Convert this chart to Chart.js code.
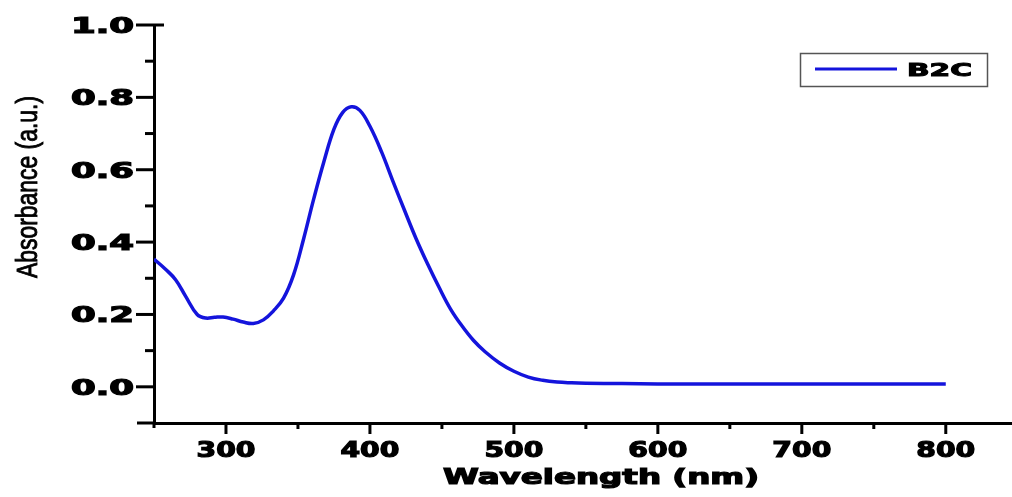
<!DOCTYPE html>
<html>
<head>
<meta charset="utf-8">
<script src="https://cdn.jsdelivr.net/npm/chart.js@4.4.1/dist/chart.umd.min.js"></script>
<style>
  html, body { margin: 0; padding: 0; background: #fff; }
  #wrap { width: 1012px; height: 497px; }
</style>
</head>
<body>
<div id="wrap"><canvas id="myChart" width="1012" height="497"></canvas></div>
<script>
// spectrum (nm, a.u.)
const wavelengths = [250, 258, 265, 272, 280, 286, 292, 298, 305, 312, 319, 326, 333, 340, 347, 354,
  361, 368, 375, 381, 387, 393, 400, 408, 416, 424, 432, 440, 448, 456, 464, 472, 480, 490, 500,
  510, 520, 530, 540, 550, 575, 600, 650, 700, 750, 800];
const absorbance = [0.353, 0.325, 0.296, 0.25, 0.20, 0.19, 0.192, 0.193, 0.187, 0.179, 0.175, 0.185,
  0.21, 0.245, 0.31, 0.41, 0.52, 0.622, 0.712, 0.758, 0.774, 0.764, 0.72, 0.65, 0.568, 0.488, 0.41,
  0.34, 0.275, 0.215, 0.168, 0.128, 0.097, 0.066, 0.043, 0.027, 0.018, 0.013, 0.011, 0.010, 0.009,
  0.008, 0.008, 0.008, 0.008, 0.008];
const seriesLabel = 'B2C';

const xMajorTicks = [300, 400, 500, 600, 700, 800];
const xTickLabels = ['300', '400', '500', '600', '700', '800'];
const xMinorTicks = [350, 450, 550, 650, 750];
const yMajorTicks = [0, 0.2, 0.4, 0.6, 0.8, 1.0];
const yTickLabels = ['0.0', '0.2', '0.4', '0.6', '0.8', '1.0'];
const yMinorTicks = [0.1, 0.3, 0.5, 0.7, 0.9];

const xTitle = 'Wavelength (nm)';
const yTitle = 'Absorbance (a.u.)';

const boldFont = 'bold 21px "DejaVu Sans"';

// wide, heavy text like the original export
function wideText(ctx, text, x, y, align, sx, heavy) {
    ctx.save();
    ctx.translate(x, y);
    ctx.scale(sx, 1);
    ctx.textAlign = align;
    ctx.textBaseline = 'alphabetic';
    ctx.fillText(text, 0, 0);
    if (heavy) {
        ctx.lineWidth = heavy;
        ctx.strokeStyle = ctx.fillStyle;
        ctx.strokeText(text, 0, 0);
    }
    ctx.restore();
}

function seg(ctx, x1, y1, x2, y2) {
    ctx.beginPath();
    ctx.moveTo(x1, y1);
    ctx.lineTo(x2, y2);
    ctx.stroke();
}

const axisDecor = {
    id: 'axisDecor',
    afterDraw(chart) {
        const ctx = chart.ctx;
        const xs = chart.scales.x;
        const ys = chart.scales.y;
        const area = chart.chartArea;
        ctx.save();
        ctx.strokeStyle = '#000';
        ctx.lineWidth = 3;

        // axis stubs past the corner
        seg(ctx, 137, area.bottom, area.left, area.bottom);
        seg(ctx, area.left, area.bottom, area.left, area.bottom + 5);
        seg(ctx, area.left, area.top, 164, area.top);

        xMajorTicks.forEach(v => {
            const px = xs.getPixelForValue(v);
            seg(ctx, px, area.bottom, px, area.bottom + 11);
        });
        xMinorTicks.forEach(v => {
            const px = xs.getPixelForValue(v);
            seg(ctx, px, area.bottom, px, area.bottom + 6);
        });
        yMajorTicks.forEach(v => {
            const py = ys.getPixelForValue(v);
            seg(ctx, area.left - 18, py, area.left, py);
        });
        yMinorTicks.forEach(v => {
            const py = ys.getPixelForValue(v);
            seg(ctx, area.left - 9, py, area.left, py);
        });

        // tick labels
        ctx.fillStyle = '#000';
        ctx.font = boldFont;
        const sxX = 59 / ctx.measureText('600').width;
        xTickLabels.forEach((t, i) => {
            wideText(ctx, t, xs.getPixelForValue(xMajorTicks[i]), 457, 'center', sxX, 1.2);
        });
        const sxY = 63 / ctx.measureText('0.8').width;
        yTickLabels.forEach((t, i) => {
            wideText(ctx, t, 134, ys.getPixelForValue(yMajorTicks[i]) + 8, 'right', sxY, 1.2);
        });

        // x title
        const sxT = 316 / ctx.measureText(xTitle).width;
        wideText(ctx, xTitle, 601, 484, 'center', sxT, 1.2);

        // y title (narrow, rotated)
        ctx.font = '29px "Liberation Sans"';
        const sxYT = 182 / ctx.measureText(yTitle).width;
        ctx.save();
        ctx.translate(37, 187);
        ctx.rotate(-Math.PI / 2);
        wideText(ctx, yTitle, 0, 0, 'center', sxYT, 0.9);
        ctx.restore();

        // legend box
        const ds = chart.data.datasets[0];
        ctx.strokeStyle = '#555';
        ctx.lineWidth = 1.5;
        ctx.strokeRect(800.5, 53.5, 187, 33);
        ctx.strokeStyle = ds.borderColor;
        ctx.lineWidth = 3;
        seg(ctx, 815, 69, 897, 69);
        ctx.font = 'bold 17px "DejaVu Sans"';
        const sxL = 65 / ctx.measureText(ds.label).width;
        wideText(ctx, ds.label, 907, 76, 'left', sxL, 1);
        ctx.restore();
    }
};

const ctx = document.getElementById('myChart').getContext('2d');
new Chart(ctx, {
    type: 'line',
    data: {
        datasets: [{
            label: seriesLabel,
            data: wavelengths.map((w, i) => ({ x: w, y: absorbance[i] })),
            borderColor: '#1414dc',
            borderWidth: 3.5,
            pointRadius: 0,
            fill: false,
            tension: 0.4
        }]
    },
    options: {
        responsive: false,
        animation: false,
        devicePixelRatio: 1,
        layout: { padding: { top: 25, right: 0, bottom: 0, left: 0 } },
        plugins: {
            legend: { display: false },
            tooltip: { enabled: false }
        },
        scales: {
            x: {
                type: 'linear',
                min: 250,
                max: 846,
                ticks: { display: false },
                grid: { display: false, drawTicks: false },
                border: { display: true, color: '#000', width: 3 },
                afterFit: (s) => { s.height = 74; }
            },
            y: {
                min: -0.1,
                max: 1.0,
                ticks: { display: false },
                grid: { display: false, drawTicks: false },
                border: { display: true, color: '#000', width: 3 },
                afterFit: (s) => { s.width = 154; }
            }
        }
    },
    plugins: [axisDecor]
});
</script>
</body>
</html>
